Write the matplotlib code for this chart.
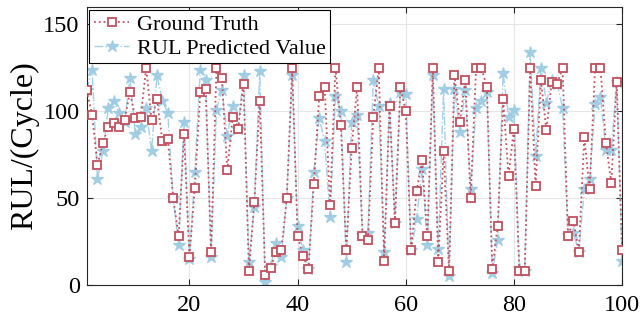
import numpy as np
import matplotlib
matplotlib.use("Agg")
import matplotlib.pyplot as plt

cycles = list(range(1, 101))
ground_truth = [112, 98, 69, 82, 91, 93, 91, 95, 111, 96,
                97, 125, 95, 107, 83, 84, 50, 28, 87, 16,
                56, 111, 113, 19, 125, 119, 66, 97, 90, 116,
                8, 48, 106, 6, 10, 19, 20, 50, 125, 28,
                17, 9, 58, 109, 114, 46, 125, 92, 20, 79,
                114, 28, 26, 97, 125, 14, 103, 36, 114, 100,
                20, 54, 72, 28, 125, 13, 77, 8, 121, 94,
                118, 50, 125, 125, 114, 9, 34, 107, 63, 90,
                8, 8, 125, 57, 118, 89, 117, 116, 125, 28,
                37, 19, 85, 55, 125, 125, 82, 59, 117, 20]
predicted = [112, 124, 61, 77, 102, 106, 99, 94, 119, 87,
             91, 102, 77, 121, 106, 99, 50, 23, 94, 15,
             65, 124, 118, 16, 101, 112, 86, 103, 90, 121,
             13, 45, 123, 2, 11, 24, 16, 50, 121, 34,
             20, 9, 65, 96, 83, 39, 109, 100, 13, 94,
             98, 29, 30, 118, 103, 19, 105, 36, 111, 110,
             20, 38, 67, 23, 121, 21, 113, 5, 113, 88,
             112, 55, 102, 106, 111, 7, 26, 122, 97, 101,
             10, 8, 134, 74, 125, 105, 118, 116, 102, 29,
             30, 19, 55, 61, 104, 108, 78, 78, 117, 14]

plt.rcParams['font.family'] = ['Liberation Serif', 'DejaVu Serif']

fig = plt.figure(figsize=(6.42, 3.21), dpi=100)
ax = fig.add_axes([0.135, 0.112, 0.834, 0.866])

red = '#c2505f'
blue = '#9ccbe3'

ax.plot(cycles, ground_truth, linestyle=':', color=red, linewidth=1.3,
        marker='s', markersize=5.5, markerfacecolor='white',
        markeredgecolor=red, markeredgewidth=1.3, label='Ground Truth', zorder=3)
ax.plot(cycles, predicted, linestyle='-.', color=blue, linewidth=1.0,
        marker='*', markersize=9, markerfacecolor=blue,
        markeredgecolor=blue, label='RUL Predicted Value', zorder=2, alpha=0.9)

ax.set_xlim(1, 100)
ax.set_ylim(0, 160)
ax.set_xticks([20, 40, 60, 80, 100])
ax.set_yticks([0, 50, 100, 150])
ax.grid(True, color='#e6e6e6', linewidth=0.8)
ax.set_axisbelow(True)
ax.tick_params(direction='in', top=True, right=True, labelsize=17.5,
               length=4, width=0.8, colors='#262626')
ax.tick_params(axis='x', pad=7)
ax.tick_params(axis='y', pad=5)
for lab in ax.get_xticklabels() + ax.get_yticklabels():
    lab.set_color('black')
for s in ax.spines.values():
    s.set_color('#262626')
    s.set_linewidth(0.8)
ax.set_ylabel('RUL/(Cycle)', fontsize=23, labelpad=3)

leg = ax.legend(loc='upper left', fontsize=16, frameon=True, fancybox=False,
                edgecolor='black', framealpha=1, borderaxespad=0.12,
                handlelength=1.6, borderpad=0.2, labelspacing=0.15,
                handletextpad=0.35)
leg.get_frame().set_linewidth(0.8)

fig.savefig('out.png', dpi=100)
